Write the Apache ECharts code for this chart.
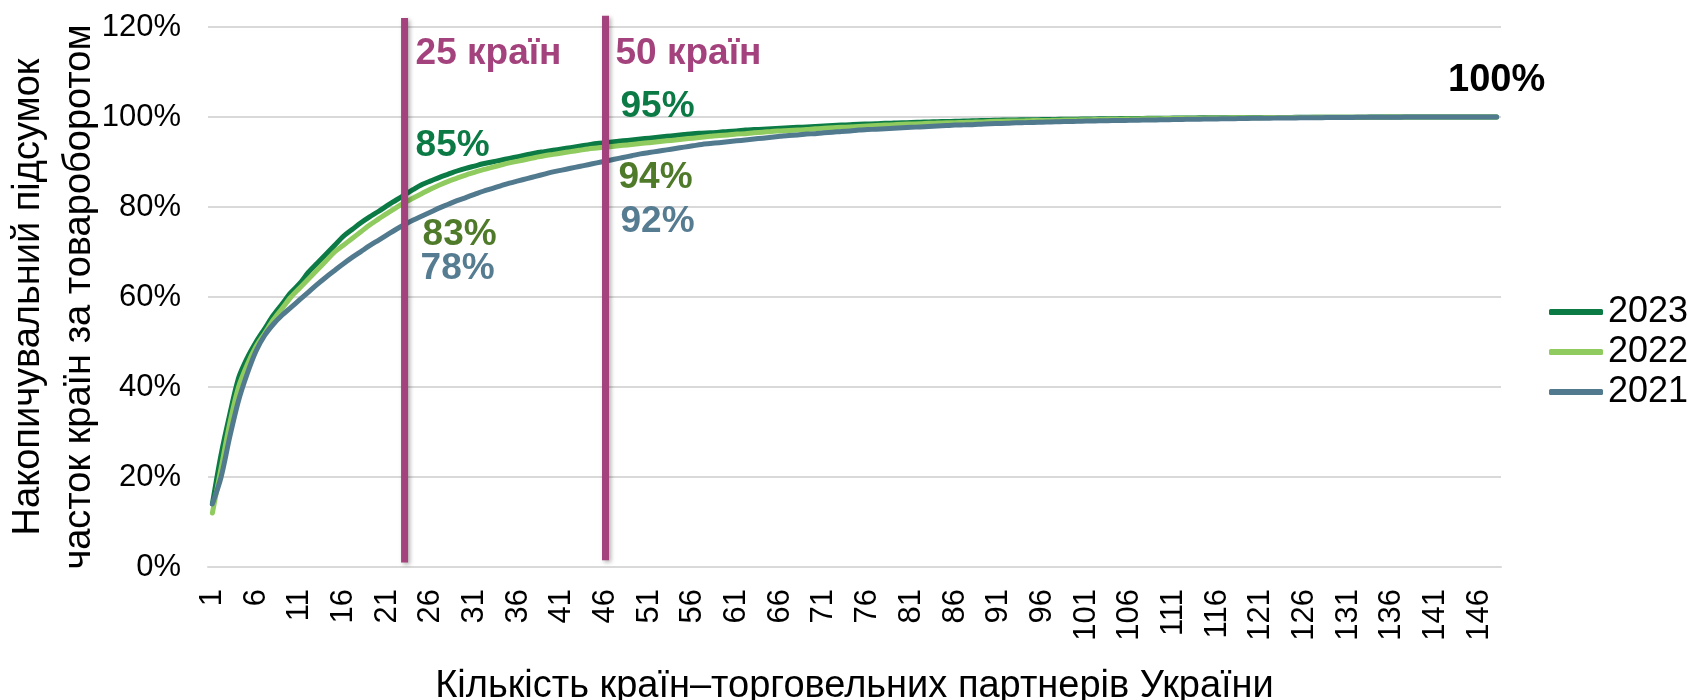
<!DOCTYPE html>
<html lang="uk">
<head>
	<meta charset="UTF-8">
	<title>Накопичувальний підсумок</title>
	<script src="https://cdn.jsdelivr.net/npm/echarts@6/dist/echarts.min.js"></script>
	<style>
		html, body { margin: 0; padding: 0; background: #fff; }
		#chart { width: 1687px; height: 700px; }
	</style>
</head>
<body>
	<div id="chart"></div>
	<script>
		// кількість країн 1..148
		var categories = [];
		for (var i = 1; i <= 148; i++) categories.push(String(i));

		var years = ['2023', '2022', '2021'];

		// накопичена частка, %
		var share2023 = [
			14, 25, 34, 42, 46.5, 50, 53, 56, 58.5, 61,
			63, 65.5, 67.5, 69.5, 71.5, 73.5, 75, 76.5, 77.8, 79,
			80.3, 81.5, 82.7, 83.9, 85, 85.8, 86.6, 87.3, 88, 88.6,
			89.1, 89.6, 90, 90.4, 90.8, 91.2, 91.6, 92, 92.3, 92.6,
			92.9, 93.2, 93.5, 93.8, 94.1, 94.3, 94.5, 94.7, 94.9, 95.1,
			95.3, 95.5, 95.7, 95.9, 96.1, 96.3, 96.4, 96.5, 96.6, 96.8,
			96.9, 97.1, 97.2, 97.3, 97.4, 97.5, 97.6, 97.7, 97.8, 97.9,
			98, 98.1, 98.2, 98.3, 98.4, 98.45, 98.5, 98.6, 98.65, 98.7,
			98.8, 98.85, 98.9, 98.95, 99, 99.05, 99.1, 99.15, 99.2, 99.25,
			99.3, 99.32, 99.35, 99.38, 99.4, 99.43, 99.45, 99.48, 99.5, 99.52,
			99.55, 99.57, 99.6, 99.62, 99.64, 99.66, 99.68, 99.7, 99.72, 99.74,
			99.76, 99.78, 99.8, 99.81, 99.82, 99.83, 99.84, 99.85, 99.86, 99.87,
			99.88, 99.89, 99.9, 99.91, 99.92, 99.93, 99.94, 99.95, 99.95, 99.96,
			99.96, 99.97, 99.97, 99.98, 99.98, 99.98, 99.99, 99.99, 99.99, 99.99,
			100, 100, 100, 100, 100, 100, 100, 100
		];
		var share2022 = [
			12, 22, 32, 40, 45, 49, 52, 55, 57.5, 60,
			62, 64, 66, 68, 70, 71.5, 73, 74.5, 76, 77.3,
			78.6, 79.8, 81, 82, 83, 84, 84.9, 85.7, 86.4, 87.1,
			87.7, 88.3, 88.8, 89.3, 89.8, 90.2, 90.6, 91, 91.4, 91.7,
			92, 92.3, 92.6, 92.9, 93.1, 93.3, 93.5, 93.7, 93.9, 94.1,
			94.3, 94.5, 94.7, 94.9, 95.1, 95.3, 95.5, 95.7, 95.9, 96,
			96.2, 96.3, 96.5, 96.6, 96.8, 96.9, 97, 97.1, 97.2, 97.4,
			97.5, 97.6, 97.7, 97.8, 97.9, 98, 98.1, 98.2, 98.3, 98.4,
			98.45, 98.5, 98.6, 98.65, 98.7, 98.75, 98.8, 98.85, 98.9, 99,
			99.05, 99.1, 99.12, 99.15, 99.2, 99.23, 99.26, 99.3, 99.33, 99.36,
			99.4, 99.43, 99.46, 99.5, 99.52, 99.55, 99.58, 99.6, 99.62, 99.65,
			99.67, 99.7, 99.72, 99.74, 99.76, 99.78, 99.8, 99.82, 99.83, 99.85,
			99.86, 99.87, 99.88, 99.89, 99.9, 99.91, 99.92, 99.93, 99.94, 99.95,
			99.95, 99.96, 99.96, 99.97, 99.97, 99.98, 99.98, 99.98, 99.99, 99.99,
			99.99, 100, 100, 100, 100, 100, 100, 100
		];
		var share2021 = [
			14, 20, 29, 37, 43, 48, 51.5, 54, 56, 57.7,
			59.4, 61.1, 62.8, 64.4, 65.9, 67.4, 68.8, 70.1, 71.4, 72.6,
			73.8, 75, 76.1, 77.1, 78, 78.9, 79.8, 80.6, 81.4, 82.1,
			82.8, 83.5, 84.1, 84.7, 85.3, 85.8, 86.3, 86.8, 87.3, 87.8,
			88.2, 88.6, 89, 89.4, 89.8, 90.2, 90.6, 91, 91.4, 91.8,
			92.1, 92.4, 92.7, 93, 93.3, 93.6, 93.9, 94.1, 94.3, 94.5,
			94.7, 94.9, 95.1, 95.3, 95.5, 95.7, 95.9, 96, 96.2, 96.3,
			96.5, 96.6, 96.8, 96.9, 97.1, 97.2, 97.3, 97.4, 97.5, 97.6,
			97.7, 97.8, 97.9, 98, 98.1, 98.2, 98.25, 98.3, 98.4, 98.5,
			98.55, 98.6, 98.7, 98.75, 98.8, 98.85, 98.9, 98.95, 99, 99.05,
			99.1, 99.13, 99.16, 99.2, 99.23, 99.26, 99.3, 99.33, 99.36, 99.4,
			99.43, 99.46, 99.5, 99.52, 99.55, 99.58, 99.6, 99.63, 99.66, 99.7,
			99.72, 99.74, 99.76, 99.78, 99.8, 99.82, 99.84, 99.86, 99.88, 99.9,
			99.91, 99.92, 99.93, 99.94, 99.95, 99.96, 99.97, 99.98, 99.98, 99.99,
			99.99, 99.99, 100, 100, 100, 100, 100, 100
		];

		// вертикальні лінії "25 країн" і "50 країн"
		var cutCategories = ['23', '46'];
		var cutTexts = ['25 країн', '50 країн'];
		var cutShares2023 = ['85%', '95%'];
		var cutShares2022 = ['83%', '94%'];
		var cutShares2021 = ['78%', '92%'];

		var FONT = '"Liberation Sans", Arial, sans-serif';
		var colors = ['#0B7A45', '#8FCB5E', '#527A8F'];
		var labelColors = ['#0B7A45', '#4E7A2A', '#567C91'];
		var purple = '#A3427C';

		var chart = echarts.init(document.getElementById('chart'));

		function textPoint(cat, y, text, color, dist, size) {
			return {
				coord: [cat, y],
				symbolSize: 0,
				label: {
					show: true,
					position: 'right',
					distance: dist,
					formatter: text,
					color: color,
					fontSize: size || 37,
					fontWeight: 'bold',
					fontFamily: FONT
				}
			};
		}

		var series = [share2023, share2022, share2021].map(function (d, k) {
			return {
				name: years[k],
				type: 'line',
				data: d,
				smooth: 0.3,
				symbol: 'none',
				lineStyle: { color: colors[k], width: 5, cap: 'round' },
				itemStyle: { color: colors[k] },
				z: 2 + k
			};
		});

		// проценти біля ліній
		series[0].markPoint = {
			silent: true,
			data: [
				textPoint(cutCategories[0], 93.6, cutShares2023[0], labelColors[0], 11),
				textPoint(cutCategories[1], 102.3, cutShares2023[1], labelColors[0], 15)
			]
		};
		series[1].markPoint = {
			silent: true,
			data: [
				textPoint(cutCategories[0], 73.8, cutShares2022[0], labelColors[1], 18),
				textPoint(cutCategories[1], 86.5, cutShares2022[1], labelColors[1], 13)
			]
		};
		series[2].markPoint = {
			silent: true,
			data: [
				textPoint(cutCategories[0], 66.3, cutShares2021[0], labelColors[2], 16),
				textPoint(cutCategories[1], 76.7, cutShares2021[1], labelColors[2], 15),
				textPoint(cutCategories[0], 114.1, cutTexts[0], purple, 11),
				textPoint(cutCategories[1], 114.1, cutTexts[1], purple, 10),
				{
					coord: ['148', 108.1],
					symbolSize: 0,
					label: {
						show: true, position: 'inside', formatter: '100%',
						color: '#000', fontSize: 38, fontWeight: 'bold', fontFamily: FONT
					}
				}
			]
		};

		// лінії трохи виходять за межі сітки, тому custom
		series.push({
			type: 'custom',
			silent: true,
			z: 10,
			clip: false,
			data: [
				[cutCategories[0], 1, 122],
				[cutCategories[1], 1.5, 122.5]
			],
			encode: { x: 0, y: [1, 2] },
			renderItem: function (params, api) {
				var p0 = api.coord([api.value(0), api.value(1)]);
				var p1 = api.coord([api.value(0), api.value(2)]);
				return {
					type: 'line',
					shape: { x1: p0[0], y1: p0[1], x2: p1[0], y2: p1[1] },
					style: {
						stroke: purple, lineWidth: 7,
						shadowColor: 'rgba(0,0,0,0.3)', shadowBlur: 4, shadowOffsetX: 2, shadowOffsetY: 2
					}
				};
			}
		});

		var option = {
			animation: false,
			textStyle: { fontFamily: FONT },
			grid: { left: 208, right: 186, top: 27, bottom: 133, outerBoundsMode: 'none', containLabel: false },
			legend: {
				orient: 'vertical',
				left: 1544,
				top: 289,
				icon: 'roundRect',
				itemWidth: 54,
				itemHeight: 6,
				itemGap: 4,
				textStyle: { fontSize: 36, color: '#000', lineHeight: 36, fontFamily: FONT },
				data: years
			},
			xAxis: {
				type: 'category',
				data: categories,
				boundaryGap: true,
				name: 'Кількість країн–торговельних партнерів України',
				nameLocation: 'middle',
				nameGap: 101,
				nameTextStyle: { fontSize: 38, color: '#000', fontFamily: FONT },
				axisLine: { lineStyle: { color: '#D9D9D9', width: 2 } },
				axisTick: { show: false },
				axisLabel: { interval: 4, rotate: 90, fontSize: 31, color: '#000', margin: 22, fontFamily: FONT }
			},
			yAxis: {
				type: 'value',
				min: 0,
				max: 120,
				interval: 20,
				name: 'Накопичувальний підсумок\nчасток країн за товароборотом',
				nameLocation: 'middle',
				nameGap: 103,
				nameMoveOverlap: false,
				nameTextStyle: { fontSize: 38, color: '#000', lineHeight: 51, fontFamily: FONT },
				axisLine: { show: false },
				axisTick: { show: false },
				axisLabel: { formatter: '{value}%', fontSize: 31, color: '#000', margin: 27, fontFamily: FONT },
				splitLine: { lineStyle: { color: '#D9D9D9', width: 2 } }
			},
			series: series
		};

		chart.setOption(option);
	</script>
</body>
</html>
